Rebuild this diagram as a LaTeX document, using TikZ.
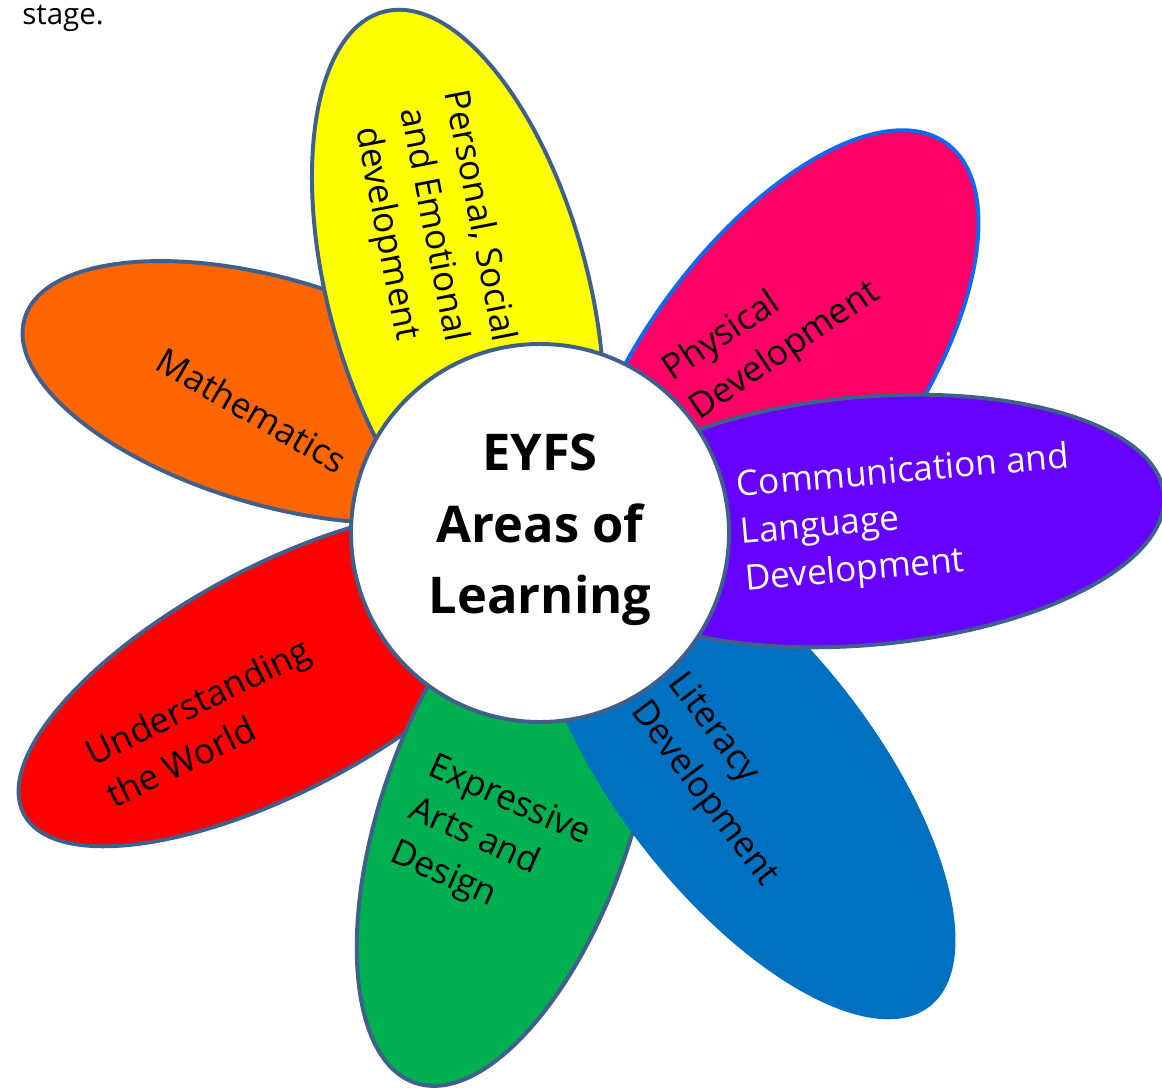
\documentclass[tikz,border=0pt]{standalone}
\usepackage{fontspec}
\setmainfont{Open Sans}
\definecolor{rim}{HTML}{3F5F8C}
\definecolor{rimblue}{HTML}{1068F0}
\definecolor{pyellow}{HTML}{FFFF00}
\definecolor{ppink}{HTML}{FF0066}
\definecolor{ppurple}{HTML}{6600FF}
\definecolor{pblue}{HTML}{0070C0}
\definecolor{pgreen}{HTML}{00B050}
\definecolor{pred}{HTML}{FF0000}
\definecolor{porange}{HTML}{FF6600}
\tikzset{
  petal/.style={draw=rim,line width=2.8pt},
  lbl/.style={font=\fontsize{25}{33.5}\selectfont,align=left,inner sep=0pt},
}
\begin{document}
\begin{tikzpicture}[x=0.025cm,y=-0.025cm]
  \useasboundingbox (0,0) rectangle (1162,1090);
  \node[anchor=base west,inner sep=0pt,font=\fontsize{21}{25}\selectfont] (stage) at (22,25) {stage.};
  % petals, back to front
  \filldraw[petal,fill=porange,rotate around={-16.4:(274,392)}] (274,392) ellipse [x radius=260, y radius=113];
  \filldraw[petal,fill=pyellow,rotate around={-75:(458,290)}] (458,290) ellipse [x radius=288, y radius=130];
  \filldraw[petal,draw=rimblue,fill=ppink,rotate around={54:(776,378)}] (776,378) ellipse [x radius=290, y radius=135];
  \filldraw[petal,fill=pred,rotate around={28:(280,678)}] (280,678) ellipse [x radius=290, y radius=112];
  \filldraw[petal,fill=pgreen,rotate around={71:(506,818)}] (506,818) ellipse [x radius=280, y radius=125];
  \fill[pblue,rotate around={-52:(745,770)}] (745,770) ellipse [x radius=300, y radius=128];
  \filldraw[petal,fill=ppurple,rotate around={5:(865,521)}] (865,521) ellipse [x radius=300, y radius=124];
  % centre
  \filldraw[petal,fill=white] (540,533) circle [radius=189];
  \node[align=center,font=\fontsize{36}{51}\selectfont\bfseries] (title) at (540,530) {EYFS\\Areas of\\Learning};
  % labels
  \node[lbl,align=center,rotate=-79] (pse) at (432,225) {Personal, Social\\and Emotional\\development};
  \node[lbl,rotate=34] (phys) at (772,332) {Physical\\Development};
  \node[lbl,text=white,rotate=5] (comm) at (907,520) {Communication and\\Language\\Development};
  \node[lbl,rotate=-30] (maths) at (252,410) {Mathematics};
  \node[lbl,rotate=26] (world) at (208,722) {Understanding\\the World};
  \node[lbl,rotate=-24] (arts) at (490,845) {Expressive\\Arts and\\Design};
  \node[lbl,rotate=-53] (lit) at (722,780) {Literacy\\Development};
\end{tikzpicture}
\end{document}
